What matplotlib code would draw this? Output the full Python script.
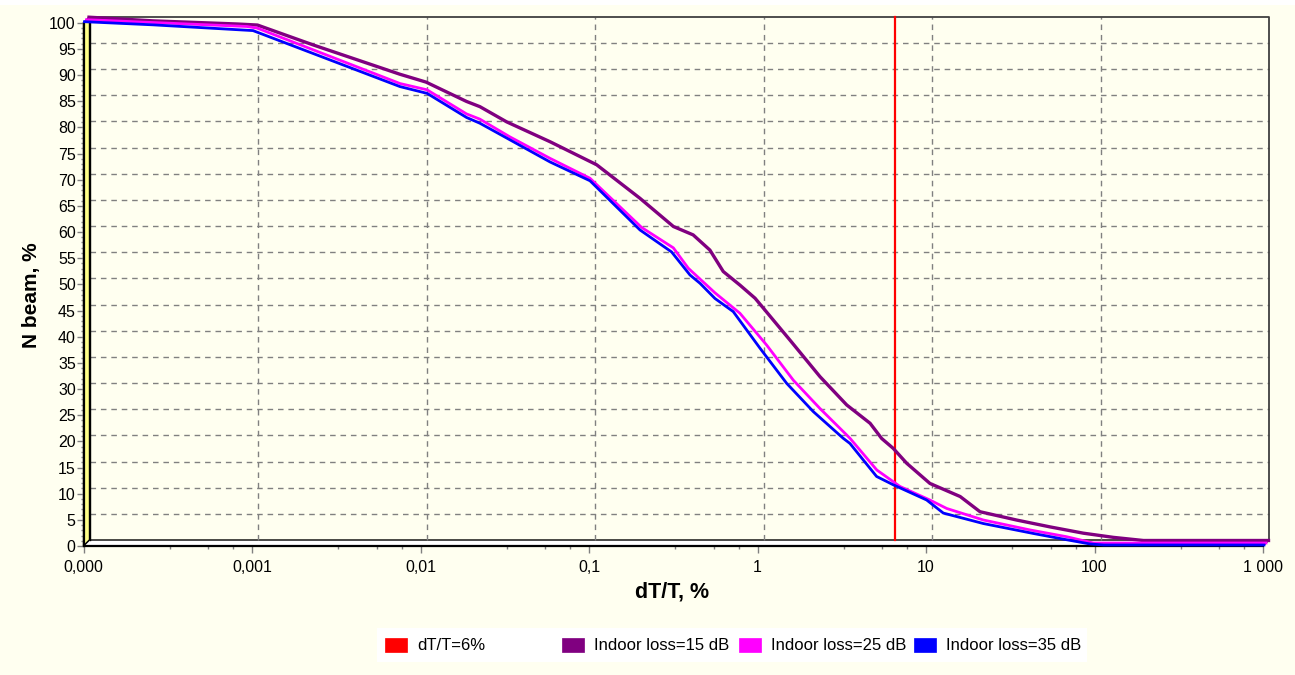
import matplotlib
matplotlib.use('Agg')
import matplotlib.pyplot as plt
from matplotlib.transforms import ScaledTranslation
from matplotlib.patches import Polygon, Rectangle, Patch
from matplotlib.ticker import FixedLocator, FixedFormatter, NullFormatter

plt.rcParams['font.family'] = ['Liberation Sans', 'DejaVu Sans']

# ---------------- data ----------------
x_ticks = [1e-4, 1e-3, 1e-2, 1e-1, 1, 10, 100, 1000]
x_tick_labels = ['0,000', '0,001', '0,01', '0,1', '1', '10', '100', '1 000']
x_minor_mult = [3.25, 5.5, 7.75]
y_ticks = list(range(0, 101, 5))
y_minor = list(range(0, 101, 1))

series_labels = ['dT/T=6%', 'Indoor loss=15 dB', 'Indoor loss=25 dB', 'Indoor loss=35 dB']
series_colors = ['#FF0000', '#800080', '#FF00FF', '#0000FF']

threshold_x = [6, 6]
threshold_y = [0, 100]

loss15_x = [1e-4, 2.40e-4, 7.59e-4, 1.0e-3, 2.14e-3, 7.0e-3, 0.010, 0.0174, 0.0209, 0.0301,
            0.0545, 0.103, 0.186, 0.294, 0.385, 0.484, 0.581, 0.730, 0.897, 1.005,
            1.445, 2.18, 3.14, 4.32, 5.06, 5.93, 7.13, 9.79, 14.8, 19.4,
            32.1, 50.5, 79.6, 120, 181, 1000]
loss15_y = [100, 99.3, 98.7, 98.5, 94.7, 89.1, 87.6, 83.9, 82.9, 80.0,
            76.2, 71.8, 65.4, 60.0, 58.4, 55.5, 51.4, 48.8, 46.3, 44.4,
            38.3, 31.3, 25.9, 22.4, 19.5, 17.6, 14.75, 10.9, 8.4, 5.5,
            3.9, 2.6, 1.4, 0.6, 0.0, 0.0]

loss25_x = [1e-4, 8.95e-4, 1.03e-3, 7.26e-3, 0.0105, 0.0180, 0.0216, 0.0326, 0.0564, 0.0973,
            0.197, 0.304, 0.373, 0.537, 0.755, 1.089, 1.567, 2.254, 3.40, 4.90,
            6.73, 10.14, 12.74, 20.99, 39.7, 65.6, 94.4, 1000]
loss25_y = [100, 98.7, 98.4, 87.8, 86.6, 82.0, 81.0, 77.6, 73.5, 69.7,
            60.3, 56.4, 52.5, 47.8, 43.9, 37.8, 31.1, 25.7, 20.0, 13.95,
            10.8, 8.2, 6.6, 4.4, 2.5, 1.2, 0.0, 0.0]

loss35_x = [1e-4, 2.55e-4, 1.0e-3, 7.45e-3, 0.0108, 0.0185, 0.0222, 0.0579, 0.100, 0.198,
            0.305, 0.392, 0.450, 0.552, 0.708, 1.021, 1.469, 2.113, 3.18, 3.49,
            5.02, 6.31, 9.95, 12.50, 21.6, 42.8, 67.5, 92.7, 112, 1000]
loss35_y = [100, 99.4, 98.3, 87.6, 86.3, 81.7, 80.6, 73.2, 69.6, 60.2,
            56.0, 51.6, 50.0, 47.1, 44.6, 37.6, 30.9, 25.5, 20.4, 19.4,
            13.1, 11.5, 8.6, 6.1, 4.1, 2.2, 1.0, 0.2, 0.0, 0.0]

# ---------------- layout ----------------
W, H = 1295, 675
BG = '#FFFFF0'
L, R, T, B = 83.5, 1263.0, 22.7, 546.0
D = 6.0  # 3D depth in pixels

fig = plt.figure(figsize=(W / 100, H / 100), dpi=100, facecolor=BG)
fig.patches.append(Rectangle((0, 1 - 5 / H), 1, 5 / H, transform=fig.transFigure,
                             facecolor='white', edgecolor='none', zorder=0))

ax = fig.add_axes([L / W, 1 - B / H, (R - L) / W, (B - T) / H])
ax.patch.set_visible(False)
ax.set_xscale('log')
ax.set_xlim(x_ticks[0], x_ticks[-1])
ax.set_ylim(0, 100)


def off(d):
    return ScaledTranslation(d / 100, d / 100, fig.dpi_scale_trans)


dx = D / (R - L)
dy = D / (B - T)

# walls
ax.add_patch(Polygon([(0, 0), (0, 1), (dx, 1 + dy), (dx, dy)], closed=True,
                     transform=ax.transAxes, facecolor='#FFFF88', edgecolor='black',
                     lw=1.0, clip_on=False, zorder=1))
ax.add_patch(Polygon([(0, 0), (1, 0), (1 + dx, dy), (dx, dy)], closed=True,
                     transform=ax.transAxes, facecolor='white', edgecolor='black',
                     lw=1.0, clip_on=False, zorder=1))
back = ax.transAxes + off(D)
ax.plot([0, 1, 1], [1, 1, 0], transform=back, color='#404040', lw=1.3,
        clip_on=False, zorder=1.2)
ax.plot([0, 0], [0, 1], transform=back, color='black', lw=1.0, clip_on=False, zorder=1.2)

# grid on back wall
back_data = ax.transData + off(D)
for v in y_ticks[1:-1]:
    ax.plot([x_ticks[0], x_ticks[-1]], [v, v], transform=back_data, color='#808080',
            lw=1.0, dashes=(4, 3.5), clip_on=False, zorder=1.1)
for v in x_ticks[1:-1]:
    ax.plot([v, v], [0, 100], transform=back_data, color='#808080',
            lw=1.0, dashes=(4, 3.5), clip_on=False, zorder=1.1)

# series (each on its own depth plane)
depths = [6.0, 5.5, 3.0, 1.0]
series = [(threshold_x, threshold_y), (loss15_x, loss15_y),
          (loss25_x, loss25_y), (loss35_x, loss35_y)]
widths = [1.6, 2.4, 2.0, 2.0]
for (xs, ys), c, d, lw in zip(series, series_colors, depths, widths):
    ax.plot(xs, ys, color=c, lw=lw, transform=ax.transData + off(d),
            clip_on=False, zorder=3)

# front axes
for s in ['top', 'right']:
    ax.spines[s].set_visible(False)
for s in ['left', 'bottom']:
    ax.spines[s].set_color('black')
    ax.spines[s].set_linewidth(1.6)
    ax.spines[s].set_zorder(2.5)

ax.xaxis.set_major_locator(FixedLocator(x_ticks))
ax.xaxis.set_major_formatter(FixedFormatter(x_tick_labels))
x_minor = [m * t for t in x_ticks[:-1] for m in x_minor_mult]
ax.xaxis.set_minor_locator(FixedLocator(x_minor))
ax.xaxis.set_minor_formatter(NullFormatter())
ax.yaxis.set_major_locator(FixedLocator(y_ticks))
ax.yaxis.set_minor_locator(FixedLocator(y_minor))

ax.tick_params(axis='both', which='major', length=5, width=1.0, color='#808080',
               labelsize=11.5, labelcolor='black')
ax.tick_params(axis='both', which='minor', length=2.5, width=1.0, color='#808080')
ax.tick_params(axis='x', which='major', pad=5.0)
ax.tick_params(axis='y', which='major', pad=0.6)

fig.text(32 / W, 1 - 295 / H, 'N beam, %', rotation=90, ha='center', va='center',
         fontsize=15, fontweight='bold', color='black')
fig.text(672 / W, 1 - 592 / H, 'dT/T, %', ha='center', va='center',
         fontsize=15.5, fontweight='bold', color='black')

# legend
fig.patches.append(Rectangle((377 / W, 1 - 662 / H), (1087 - 377) / W, 34 / H,
                             transform=fig.transFigure, facecolor='white',
                             edgecolor='none', zorder=0.5))
fs = 12.0
fs_px = fs * 100 / 72
leg_x = [385, 561.7, 738.7, 913.8]
for lab, c, xb in zip(series_labels, series_colors, leg_x):
    fig.legend(handles=[Patch(facecolor=c, edgecolor=c, lw=0.5)], labels=[lab],
               loc='center left', bbox_to_anchor=(xb / W, 1 - 645.5 / H),
               frameon=False, fontsize=fs, handlelength=22 / fs_px,
               handleheight=15 / fs_px, handletextpad=10.7 / fs_px,
               borderpad=0, borderaxespad=0)

fig.savefig('out.png', dpi=100, facecolor=BG)
